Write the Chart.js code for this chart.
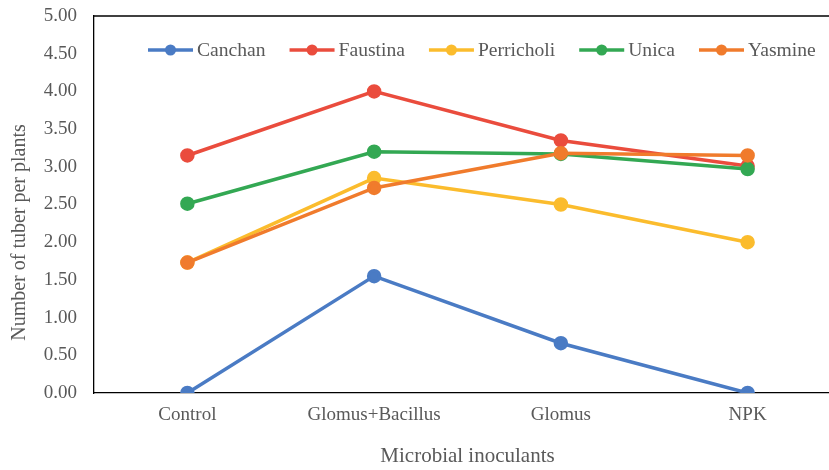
<!DOCTYPE html>
<html>
<head>
<meta charset="utf-8">
<script src="https://cdn.jsdelivr.net/npm/chart.js@4"></script>
<style>
    html, body { margin: 0; padding: 0; background: #fff; overflow: hidden; }
    .chart-block { width: 850px; height: 470px; }
</style>
</head>
<body>
<div class="chart-block"><canvas id="myChart"></canvas></div>
<script>
const labels = ['Control', 'Glomus+Bacillus', 'Glomus', 'NPK'];
const canchan = [0.00, 1.55, 0.66, 0.00];
const faustina = [3.15, 4.00, 3.35, 3.01];
const perricholi = [1.73, 2.85, 2.50, 2.00];
const unica = [2.51, 3.20, 3.17, 2.97];
const yasmine = [1.73, 2.72, 3.18, 3.15];
const yTicks = [0, 0.5, 1, 1.5, 2, 2.5, 3, 3.5, 4, 4.5, 5];
const yTitle = 'Number of tuber per plants';

const font = 'Liberation Serif';
const textColor = '#595959';

function series(label, data, color, order) {
    return {
        label: label,
        data: data,
        borderColor: color,
        backgroundColor: color,
        pointBackgroundColor: color,
        pointBorderColor: color,
        borderWidth: 3.5,
        pointRadius: 5.5,
        tension: 0,
        fill: false,
        order: order
    };
}

// legend in one row inside the plot, line + dot markers like the original,
// plus the y title, which sits a bit below the middle of the axis
const extras = {
    id: 'extras',
    beforeDatasetsDraw(chart) {
        // top frame line of the plot
        const c = chart.ctx;
        const area = chart.chartArea;
        c.save();
        c.strokeStyle = '#000';
        c.lineWidth = 1.3;
        c.beginPath();
        c.moveTo(area.left, area.top);
        c.lineTo(area.right, area.top);
        c.stroke();
        c.restore();
    },
    afterDraw(chart) {
        const c = chart.ctx;
        const area = chart.chartArea;
        const y = area.top + 34;
        const markW = 45, gap = 4, pad = 24;
        c.save();
        c.font = '19.6px "' + font + '"';
        c.textBaseline = 'middle';
        let x = area.left + 54;
        chart.data.datasets.forEach((ds) => {
            const col = ds.borderColor;
            c.strokeStyle = col;
            c.fillStyle = col;
            c.lineWidth = 3.5;
            c.beginPath();
            c.moveTo(x, y);
            c.lineTo(x + markW, y);
            c.stroke();
            c.beginPath();
            c.arc(x + markW / 2, y, 5.5, 0, Math.PI * 2);
            c.fill();
            c.fillStyle = textColor;
            c.fillText(ds.label, x + markW + gap, y + 1);
            x += markW + gap + c.measureText(ds.label).width + pad;
        });

        c.font = '20px "' + font + '"';
        c.textAlign = 'center';
        c.fillStyle = textColor;
        c.translate(20, (area.top + area.bottom) / 2 + 28);
        c.rotate(-Math.PI / 2);
        c.fillText(yTitle, 0, 0);
        c.restore();
    }
};

const ctx = document.getElementById('myChart').getContext('2d');
const myLineChart = new Chart(ctx, {
    type: 'line',
    data: {
        labels: labels,
        datasets: [
            series('Canchan', canchan, '#4a7bc4', 5),
            series('Faustina', faustina, '#ea4c3d', 4),
            series('Perricholi', perricholi, '#fbbc2d', 3),
            series('Unica', unica, '#33a853', 2),
            series('Yasmine', yasmine, '#f07b2c', 1)
        ]
    },
    options: {
        responsive: true,
        maintainAspectRatio: false,
        animation: false,
        layout: {
            padding: {top: 16, left: 6, right: 0, bottom: 0}
        },
        scales: {
            x: {
                offset: true,
                grid: {display: false, drawTicks: false},
                border: {display: true, color: '#000', width: 1.3},
                ticks: {
                    color: textColor,
                    padding: 11,
                    font: {family: font, size: 19}
                },
                title: {
                    display: true,
                    text: 'Microbial inoculants',
                    color: textColor,
                    padding: {top: 6, bottom: 1},
                    font: {family: font, size: 21}
                }
            },
            y: {
                min: 0,
                max: 5,
                afterBuildTicks: (axis) => {
                    axis.ticks = yTicks.map((v) => ({value: v}));
                },
                afterFit: (axis) => {
                    axis.width = 88;
                    axis.paddingTop = 0;
                },
                grid: {display: false, drawTicks: false},
                border: {display: true, color: '#000', width: 1.3},
                ticks: {
                    color: textColor,
                    padding: 17,
                    font: {family: font, size: 19},
                    callback: (v) => Number(v).toFixed(2)
                }
            }
        },
        plugins: {
            tooltip: {enabled: false},
            legend: {display: false}
        }
    },
    plugins: [extras]
});
</script>
</body>
</html>
